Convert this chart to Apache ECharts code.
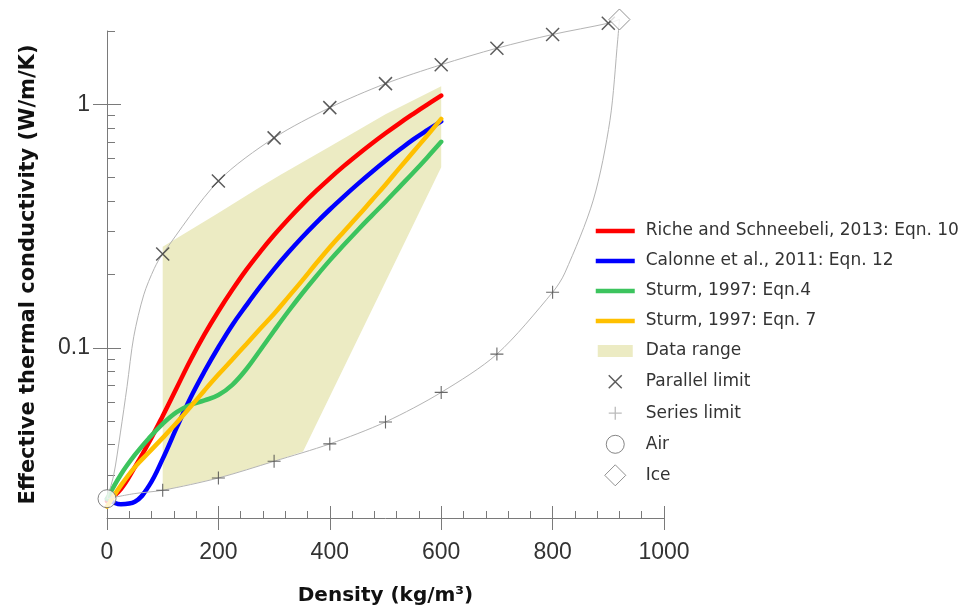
<!DOCTYPE html>
<html>
<head>
<meta charset="utf-8">
<script src="https://cdn.jsdelivr.net/npm/echarts@6/dist/echarts.min.js"></script>
<style>
  html, body { margin: 0; padding: 0; background: #ffffff; }
  #chart { width: 968px; height: 609px; }
</style>
</head>
<body>
<div id="chart"></div>
<script>
// Effective thermal conductivity of snow vs. density: four regression models,
// the measured data envelope, and the parallel / series bounds between air and ice.

const xTickStep = 200;
const yMajorTicks = [0.1, 1];
const yMinorTicks = [0.03, 0.04, 0.05, 0.06, 0.07, 0.08, 0.09, 0.2, 0.3, 0.4, 0.5, 0.6, 0.7, 0.8, 0.9, 2];

const modelNames = [
  'Riche and Schneebeli, 2013: Eqn. 10',
  'Calonne et al., 2011: Eqn. 12',
  'Sturm, 1997: Eqn.4',
  'Sturm, 1997: Eqn. 7'
];

// Model curves sampled every 25 kg/m3 from 0 to 600
const modelDensity = [0, 25, 50, 75, 100, 125, 150, 175, 200, 225, 250, 275, 300,
                      325, 350, 375, 400, 425, 450, 475, 500, 525, 550, 575, 600];
// conductivity (W/m/K)
const riche = [0.02344, 0.0263, 0.03236, 0.04074, 0.05248, 0.06839, 0.08913, 0.1135, 0.1413,
               0.1730, 0.2089, 0.2477, 0.2904, 0.3365, 0.3864, 0.4395, 0.4966, 0.5572,
               0.6209, 0.6887, 0.7603, 0.8356, 0.9141, 0.9977, 1.0864];
const calonne = [0.02399, 0.0228, 0.02333, 0.02704, 0.03499, 0.04699, 0.06237, 0.07998, 0.1005,
                 0.1242, 0.1493, 0.1782, 0.2104, 0.2455, 0.2838, 0.3251, 0.3698, 0.4178,
                 0.4699, 0.5260, 0.5861, 0.6501, 0.7178, 0.7834, 0.8511];
const sturm4 = [0.02399, 0.0302, 0.03631, 0.04246, 0.04875, 0.05445, 0.05834, 0.06081, 0.06397,
                0.07047, 0.08166, 0.09772, 0.1175, 0.1406, 0.1667, 0.1959, 0.2286, 0.2642,
                0.3041, 0.3483, 0.3981, 0.4571, 0.5248, 0.6053, 0.7015];
const sturm7 = [0.02228, 0.02723, 0.03236, 0.03715, 0.04266, 0.0492, 0.05728, 0.06683, 0.07762,
                0.08954, 0.1035, 0.1197, 0.1380, 0.1611, 0.1884, 0.2213, 0.2588, 0.2999,
                0.3467, 0.4027, 0.4677, 0.5470, 0.6383, 0.7447, 0.8710];

// Envelope of the measurements (closed outline)
const rangeDensity = [100, 200, 275, 311, 401, 500, 600, 600, 352, 300, 200, 100];
const rangeK = [0.260, 0.358, 0.457, 0.512, 0.673, 0.910, 1.185, 0.552, 0.0375, 0.0342, 0.0292, 0.0260];

// Parallel (upper) bound
const parallelDensity = [100, 200, 300, 400, 500, 600, 700, 800, 900];
const parallelK = [0.243, 0.484, 0.728, 0.969, 1.216, 1.454, 1.70, 1.935, 2.153];
const parallelCurve = [
  [0, 0.024], [12, 0.030], [24, 0.0447], [36, 0.0694], [48, 0.111], [66, 0.165], [85, 0.212],
  [100, 0.243], [200, 0.484], [300, 0.728], [400, 0.969], [500, 1.216], [600, 1.454],
  [700, 1.70], [800, 1.935], [900, 2.153], [920, 2.23]
];

// Series (lower) bound
const seriesDensity = [100, 200, 300, 400, 500, 600, 700, 800];
const seriesK = [0.0260, 0.0292, 0.0342, 0.0403, 0.0496, 0.0656, 0.0942, 0.169];
const seriesCurve = [
  [0, 0.024], [50, 0.0252], [100, 0.0260], [200, 0.0292], [300, 0.0342], [400, 0.0403],
  [500, 0.0496], [600, 0.0656], [700, 0.0942], [800, 0.169], [822, 0.203], [873, 0.404],
  [903, 0.86], [917, 1.85], [920, 2.23]
];

const airPoint = [0, 0.024];
const icePoint = [920, 2.23];

const modelColors = ['#ff0000', '#0000ff', '#3cc45e', '#ffc000'];
const rangeColor = '#ecebc3';
const boundLine = '#b4b4b4';

const SANS = '"Liberation Sans", Arial, sans-serif';
const WIDE = '"DejaVu Sans", sans-serif';
const axisGrey = '#7a7a7a';

const chart = echarts.init(document.getElementById('chart'), null, { renderer: 'canvas' });

const crossPath = 'path://M0,0L10,10M10,0L0,10';
const plusPath = 'path://M5,0V10M0,5H10';

// legend icons (39 x 22 boxes, drawn centred)
const ICON_LINE = 'path://M0,0M39,22M0,8.75h39v4.5h-39z';
const ICON_RECT = 'path://M0,0M39,22M2,5h35v12h-35z';
const ICON_CROSS = 'path://M0,0M39,22M13,4.5L26,17.5M26,4.5L13,17.5';
const ICON_PLUS = 'path://M0,0M39,22M19.5,4.5V17.5M13,11H26';
const ICON_CIRCLE = 'path://M0,0M39,22M28.5,11A9,9 0 1 1 10.5,11A9,9 0 1 1 28.5,11Z';
const ICON_DIAMOND = 'path://M0,0M39,22M19.5,0.5L30,11L19.5,21.5L9,11Z';

function logAxis(extra) {
  return Object.assign({
    type: 'log', logBase: 10, min: 0.02, max: 2, position: 'left', offset: 0,
    gridIndex: 0,
    axisLine: { show: false },
    axisLabel: { show: false },
    splitLine: { show: false },
    minorTick: { show: false },
    minorSplitLine: { show: false }
  }, extra);
}
function valueAxis(extra) {
  return Object.assign({
    type: 'value', min: 0, max: 1000, interval: xTickStep, position: 'bottom', offset: 0,
    gridIndex: 0,
    axisLine: { show: false, onZero: false },
    axisLabel: { show: false },
    splitLine: { show: false },
    minorSplitLine: { show: false }
  }, extra);
}

function pairs(xs, ys) {
  return xs.map((x, i) => [x, ys[i]]);
}

const lineSeries = [riche, calonne, sturm4, sturm7].map((ys, i) => ({
  name: modelNames[i],
  type: 'line',
  data: pairs(modelDensity, ys),
  smooth: 0.4,
  showSymbol: false,
  symbol: 'none',
  lineStyle: { color: modelColors[i], width: 4.5, cap: 'round' },
  itemStyle: { color: modelColors[i] },
  z: 3,
  silent: true
}));

const option = {
  backgroundColor: '#ffffff',
  animation: false,
  grid: { left: 107, top: 31, width: 557, height: 487, containLabel: false, outerBoundsMode: 'none' },
  xAxis: [
    valueAxis({
      axisLine: { show: true, onZero: false, lineStyle: { color: axisGrey, width: 1 } },
      axisTick: { show: true, inside: true, length: 12, lineStyle: { color: axisGrey } },
      minorTick: { show: true, splitNumber: 5, length: 7, lineStyle: { color: axisGrey } },
      axisLabel: {
        show: true, margin: 23, fontSize: 23, fontFamily: SANS, color: '#333',
        formatter: v => String(v)
      },
      name: 'Density (kg/m³)',
      nameLocation: 'middle',
      nameGap: 68,
      nameTextStyle: { fontFamily: WIDE, fontWeight: 'bold', fontSize: 20, color: '#111' }
    }),
    valueAxis({
      axisTick: { show: true, inside: false, length: 12, lineStyle: { color: axisGrey } },
      minorTick: { show: false }
    })
  ],
  yAxis: [
    logAxis({
      axisLine: { show: true, lineStyle: { color: axisGrey, width: 1 } },
      axisTick: { show: true, inside: true, length: 14, customValues: yMajorTicks, lineStyle: { color: axisGrey } },
      axisLabel: {
        show: true, customValues: yMajorTicks, margin: 17, fontSize: 23, fontFamily: SANS, color: '#333',
        formatter: v => String(v)
      },
      name: 'Effective thermal conductivity (W/m/K)',
      nameLocation: 'middle',
      nameGap: 68,
      nameTextStyle: { fontFamily: WIDE, fontWeight: 'bold', fontSize: 21, color: '#111' }
    }),
    logAxis({
      axisTick: { show: true, inside: false, length: 14, customValues: yMajorTicks, lineStyle: { color: axisGrey } }
    }),
    logAxis({
      axisTick: { show: true, inside: true, length: 8, customValues: yMinorTicks, lineStyle: { color: axisGrey } }
    })
  ],
  legend: {
    orient: 'vertical',
    left: 590,
    top: 215,
    itemWidth: 39,
    itemHeight: 22,
    itemGap: 8,
    selectedMode: false,
    textStyle: { fontFamily: WIDE, fontSize: 17, color: '#333', padding: [0, 0, 0, 6] },
    data: [
      { name: modelNames[0], icon: ICON_LINE, itemStyle: { color: modelColors[0], borderWidth: 0 } },
      { name: modelNames[1], icon: ICON_LINE, itemStyle: { color: modelColors[1], borderWidth: 0 } },
      { name: modelNames[2], icon: ICON_LINE, itemStyle: { color: modelColors[2], borderWidth: 0 } },
      { name: modelNames[3], icon: ICON_LINE, itemStyle: { color: modelColors[3], borderWidth: 0 } },
      { name: 'Data range', icon: ICON_RECT, itemStyle: { color: rangeColor, borderWidth: 0 } },
      { name: 'Parallel limit', icon: ICON_CROSS, itemStyle: { color: 'rgba(0,0,0,0)', borderColor: '#333', borderWidth: 1.5 } },
      { name: 'Series limit', icon: ICON_PLUS, itemStyle: { color: 'rgba(0,0,0,0)', borderColor: '#aaa', borderWidth: 1.3 } },
      { name: 'Air', icon: ICON_CIRCLE, itemStyle: { color: '#ffffff', borderColor: '#666', borderWidth: 1 } },
      { name: 'Ice', icon: ICON_DIAMOND, itemStyle: { color: '#ffffff', borderColor: '#777', borderWidth: 1 } }
    ]
  },
  series: [
    {
      name: 'Data range',
      type: 'custom',
      coordinateSystem: 'cartesian2d',
      data: [[100, 0.1]],
      z: 1,
      silent: true,
      itemStyle: { color: rangeColor },
      renderItem: function (params, api) {
        const pts = rangeDensity.map((d, i) => api.coord([d, rangeK[i]]));
        return { type: 'polygon', shape: { points: pts }, style: { fill: rangeColor } };
      }
    },
    ...lineSeries,
    {
      name: 'parallel-bound',
      type: 'line',
      data: parallelCurve,
      smooth: 0.3,
      symbol: 'none',
      clip: false,
      lineStyle: { color: boundLine, width: 1 },
      z: 4,
      silent: true
    },
    {
      name: 'series-bound',
      type: 'line',
      data: seriesCurve,
      smooth: 0.3,
      symbol: 'none',
      clip: false,
      lineStyle: { color: boundLine, width: 1 },
      z: 4,
      silent: true
    },
    {
      name: 'Parallel limit',
      type: 'scatter',
      data: pairs(parallelDensity, parallelK),
      symbol: crossPath,
      symbolSize: 13,
      clip: false,
      itemStyle: { color: 'rgba(0,0,0,0)', borderColor: '#333', borderWidth: 1.5 },
      z: 5,
      silent: true
    },
    {
      name: 'Series limit',
      type: 'scatter',
      data: pairs(seriesDensity, seriesK),
      symbol: plusPath,
      symbolSize: 13,
      clip: false,
      itemStyle: { color: 'rgba(0,0,0,0)', borderColor: '#444', borderWidth: 1.1 },
      z: 5,
      silent: true
    },
    {
      name: 'Air',
      type: 'scatter',
      data: [airPoint],
      symbol: 'circle',
      symbolSize: 18,
      clip: false,
      itemStyle: { color: '#ffffff', borderColor: '#666', borderWidth: 1 },
      z: 6,
      silent: true
    },
    {
      name: 'Ice',
      type: 'scatter',
      data: [icePoint],
      symbol: 'diamond',
      symbolSize: 21,
      clip: false,
      itemStyle: { color: '#ffffff', borderColor: '#777', borderWidth: 1 },
      z: 6,
      silent: true
    }
  ]
};

chart.setOption(option);
</script>
</body>
</html>
